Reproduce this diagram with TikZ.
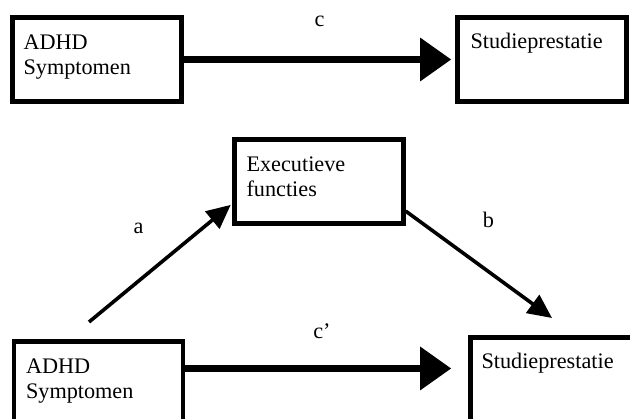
\documentclass[tikz,border=0pt]{standalone}
\usepackage{fontspec}
\setmainfont{Liberation Serif}
\usetikzlibrary{arrows.meta,calc}

\begin{document}
\begin{tikzpicture}[
    x=0.025cm, y=-0.025cm,
    box/.style={draw, line width=0.11cm, minimum width=4.225cm, minimum height=2.1cm, inner sep=0pt},
    txt/.style={anchor=base west, align=left, inner sep=0pt, font=\fontsize{15.8}{17.7}\selectfont},
    lbl/.style={inner sep=0pt, font=\fontsize{15.8}{17.7}\selectfont},
    sideArrow/.style={-{Triangle[length=0.6cm, width=0.55cm]}, line width=0.09cm},
    mainArrow/.style={-{Triangle[length=0.78cm, width=1.05cm]}, line width=0.175cm}
]
    \useasboundingbox (0,0) rectangle (630,419);
    \clip (0,0) rectangle (630,419);

    % Total effect
    \node[box] (adhdTop) at (97,59.5) {};
    \node[box] (studieTop) at (542,59.5) {};
    % (base of a two-line node is its last line)
    \node[txt] (adhdTopTxt) at ([shift={(13,59)}]adhdTop.north west) {ADHD\\Symptomen};
    \node[txt] (studieTopTxt) at ([shift={(15,33)}]studieTop.north west) {Studieprestatie};
    \draw[mainArrow, shorten >=0.1cm] (adhdTop) -- (studieTop)
        node[lbl, midway, above=0.72cm] {c};

    % Mediation model
    \node[box] (exec) at (319,181.5) {};
    \node[box] (adhdBot) at (98.5,383.5) {};
    \node[box] (studieBot) at (555,379.5) {};
    \node[txt] (execTxt) at ([shift={(14,59)}]exec.north west) {Executieve\\functies};
    \node[txt] (adhdBotTxt) at ([shift={(14,59)}]adhdBot.north west) {ADHD\\Symptomen};
    \node[txt] (studieBotTxt) at ([shift={(13,33)}]studieBot.north west) {Studieprestatie};

    \coordinate (aStart) at (89,322);
    \coordinate (bEnd) at (552,318);
    \coordinate (cStart) at ($(adhdBot.north east)!.33!(adhdBot.south east)$);

    \draw[sideArrow, shorten >=0.05cm] (aStart) -- ($(exec.west)!.5!(exec.south west)$)
        node[lbl, midway, xshift=-0.55cm, yshift=0.85cm] {a};
    \draw[sideArrow] ($(exec.east)!.67!(exec.south east)$) -- (bEnd)
        node[lbl, midway, xshift=0.24cm, yshift=1.12cm] {b};
    \draw[mainArrow, shorten >=0.425cm] (cStart) -- (cStart -| studieBot.west)
        node[lbl, midway, xshift=-0.12cm, above=0.66cm] {c’};
\end{tikzpicture}
\end{document}
